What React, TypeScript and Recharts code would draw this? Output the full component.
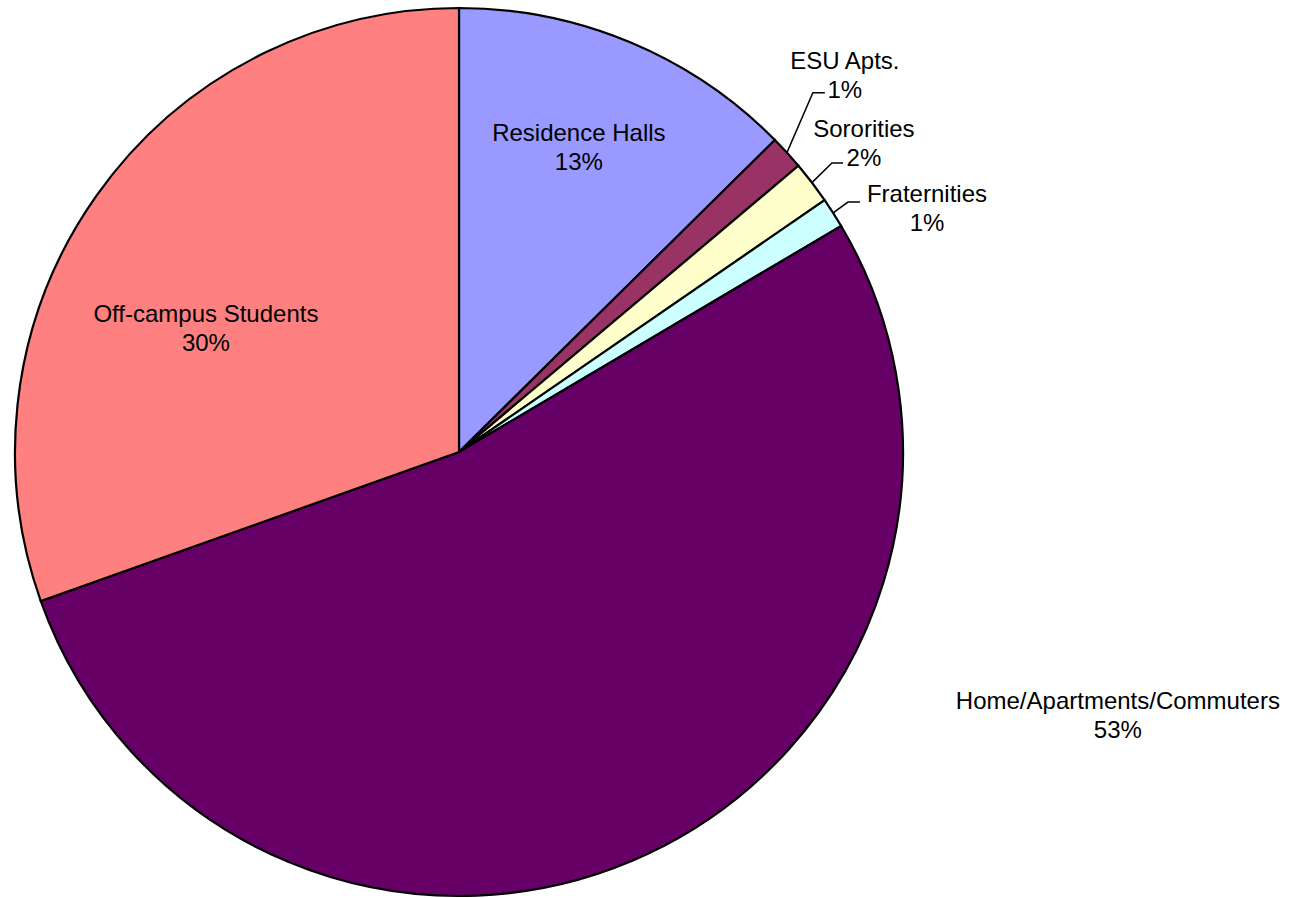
import React from 'react';
import { PieChart, Pie, Cell } from 'recharts';

const names = [
  'Residence Halls',
  'ESU Apts.',
  'Sororities',
  'Fraternities',
  'Home/Apartments/Commuters',
  'Off-campus Students',
];
const shares = [12.6, 1.25, 1.55, 1.1, 53.05, 30.45];
const colors = ['#9999FF', '#993366', '#FFFFCC', '#CCFFFF', '#660066', '#FF8080'];

const data = names.map((name, i) => ({ name, value: shares[i] }));

// label anchor as fractions of the radius from the centre; leader = elbow + end of the short tick
const labelLayout: { x: number; y: number; leader?: { ex: number; ey: number; tx: number } }[] = [
  { x: 0.27, y: -0.688 },
  { x: 0.869, y: -0.85, leader: { ex: 0.797, ey: -0.809, tx: 0.824 } },
  { x: 0.912, y: -0.697, leader: { ex: 0.84, ey: -0.651, tx: 0.865 } },
  { x: 1.054, y: -0.55, leader: { ex: 0.876, ey: -0.563, tx: 0.903 } },
  { x: 1.484, y: 0.592 },
  { x: -0.57, y: -0.279 },
];

const FONT = '"Liberation Sans", Arial, sans-serif';
const RADIAN = Math.PI / 180;

function renderLabel(props: any) {
  const { cx, cy, outerRadius, midAngle, percent, index, name } = props;
  const lay = labelLayout[index];
  const x = cx + lay.x * outerRadius;
  const y = cy + lay.y * outerRadius;
  let leader = null;
  if (lay.leader) {
    const sx = cx + outerRadius * Math.cos(-midAngle * RADIAN);
    const sy = cy + outerRadius * Math.sin(-midAngle * RADIAN);
    const ex = cx + lay.leader.ex * outerRadius;
    const ey = cy + lay.leader.ey * outerRadius;
    const tx = cx + lay.leader.tx * outerRadius;
    leader = (
      <polyline
        points={`${sx},${sy} ${ex},${ey} ${tx},${ey}`}
        fill="none"
        stroke="#000"
        strokeWidth={1.5}
      />
    );
  }
  return (
    <g key={`lbl-${index}`}>
      {leader}
      <text
        x={x}
        y={y}
        textAnchor="middle"
        fontFamily={FONT}
        fontSize={24}
        fill="#000"
      >
        <tspan x={x} dy={-14.5} dominantBaseline="central">
          {name}
        </tspan>
        <tspan x={x} dy={29} dominantBaseline="central">
          {`${Math.round(percent * 100)}%`}
        </tspan>
      </text>
    </g>
  );
}

export default function App() {
  return (
    <div style={{ position: 'absolute', left: 0, top: 0, background: '#fff' }}>
      <PieChart width={1303} height={898} margin={{ top: 0, right: 0, bottom: 0, left: 0 }}>
        <Pie
          data={data}
          dataKey="value"
          nameKey="name"
          cx={459}
          cy={452}
          outerRadius={444}
          startAngle={90}
          endAngle={-270}
          stroke="#000"
          strokeWidth={2.2}
          label={renderLabel}
          labelLine={false}
          isAnimationActive={false}
        >
          {data.map((d, i) => (
            <Cell key={d.name} fill={colors[i]} />
          ))}
        </Pie>
      </PieChart>
    </div>
  );
}
